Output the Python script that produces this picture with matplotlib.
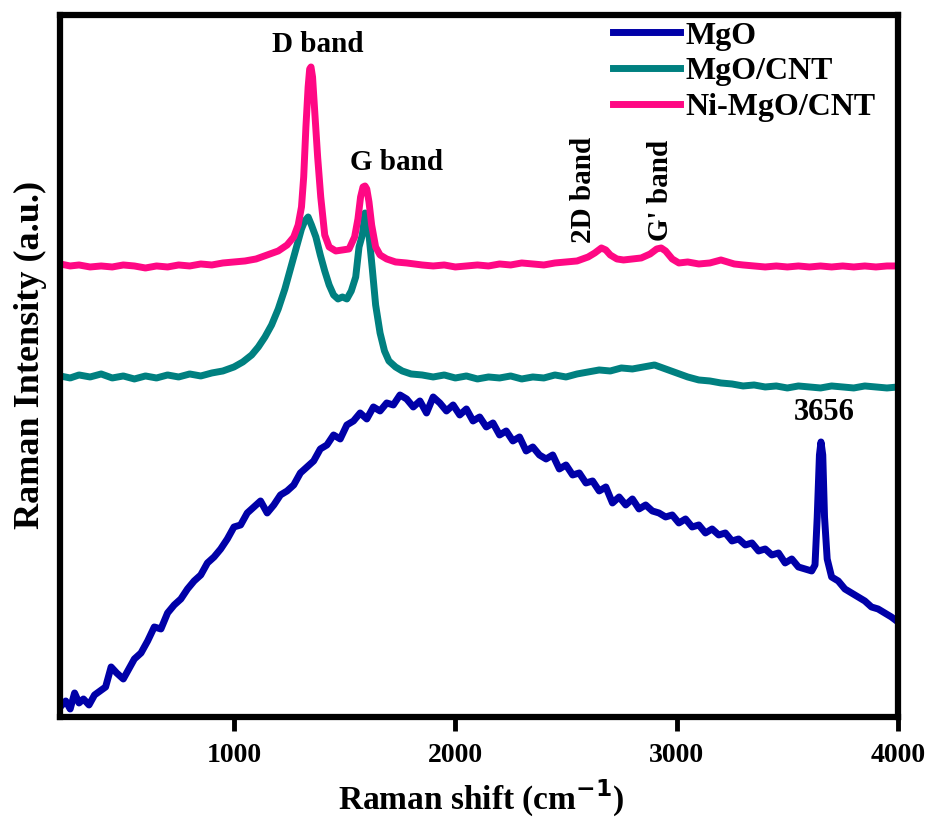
import matplotlib
matplotlib.use("Agg")
import matplotlib.pyplot as plt

plt.rcParams['font.family'] = ['Liberation Serif', 'DejaVu Serif']
plt.rcParams['font.weight'] = 'bold'
plt.rcParams['mathtext.default'] = 'bf'

# MgO spectrum (Raman shift in cm-1, intensity in a.u.)
mgo_x = [215, 240, 260, 280, 300, 320, 345, 370, 395, 420,
         445, 470, 500, 525, 550, 580, 610, 640, 670, 700,
         730, 760, 790, 820, 850, 880, 910, 940, 970, 1000,
         1030, 1060, 1090, 1120, 1150, 1180, 1210, 1240, 1270, 1300,
         1330, 1360, 1390, 1420, 1450, 1480, 1510, 1540, 1570, 1600,
         1630, 1660, 1690, 1720, 1750, 1780, 1810, 1840, 1870, 1900,
         1930, 1960, 1990, 2020, 2050, 2080, 2110, 2140, 2170, 2200,
         2230, 2260, 2290, 2320, 2350, 2380, 2410, 2440, 2470, 2500,
         2530, 2560, 2590, 2620, 2650, 2680, 2710, 2740, 2770, 2800,
         2830, 2860, 2890, 2920, 2950, 2980, 3010, 3040, 3070, 3100,
         3130, 3160, 3190, 3220, 3250, 3280, 3310, 3340, 3370, 3400,
         3430, 3460, 3490, 3520, 3550, 3580, 3610, 3625, 3635, 3645,
         3652, 3660, 3668, 3680, 3700, 3730, 3760, 3790, 3820, 3850,
         3880, 3910, 3940, 3970, 4000]
mgo_y = [10, 16, 8, 24, 14, 18, 12, 22, 26, 30,
         50, 44, 38, 48, 58, 64, 76, 90, 88, 104,
         112, 118, 128, 136, 142, 154, 160, 168, 178, 190,
         192, 204, 210, 216, 204, 212, 222, 226, 232, 244,
         250, 256, 268, 272, 282, 278, 292, 296, 304, 298,
         310, 306, 314, 312, 322, 318, 310, 316, 304, 320,
         314, 306, 312, 302, 308, 296, 300, 290, 294, 282,
         286, 276, 280, 266, 270, 262, 258, 262, 248, 252,
         242, 244, 234, 236, 226, 230, 214, 220, 212, 218,
         208, 212, 206, 204, 200, 202, 194, 198, 190, 192,
         184, 188, 182, 184, 176, 178, 172, 174, 166, 168,
         162, 164, 154, 158, 150, 148, 146, 152, 200, 262,
         275, 262, 200, 158, 140, 136, 128, 124, 120, 116,
         110, 108, 104, 100, 95]

# MgO/CNT spectrum
cnt_x = [215, 260, 300, 350, 400, 450, 500, 550, 600, 650,
         700, 750, 800, 850, 900, 950, 1000, 1040, 1080, 1110,
         1140, 1170, 1200, 1230, 1260, 1285, 1305, 1320, 1335, 1350,
         1370, 1390, 1410, 1430, 1450, 1470, 1490, 1510, 1530, 1550,
         1565, 1580, 1592, 1600, 1610, 1625, 1640, 1660, 1680, 1700,
         1730, 1760, 1800, 1850, 1900, 1950, 2000, 2050, 2100, 2150,
         2200, 2250, 2300, 2350, 2400, 2450, 2500, 2550, 2600, 2650,
         2700, 2750, 2800, 2850, 2900, 2950, 3000, 3050, 3100, 3150,
         3200, 3250, 3300, 3350, 3400, 3450, 3500, 3550, 3600, 3650,
         3700, 3750, 3800, 3850, 3900, 3950, 4000]
cnt_y = [341, 339, 342, 340, 343, 339, 341, 338, 341, 339,
         342, 340, 343, 341, 344, 346, 350, 355, 362, 370,
         380, 392, 408, 428, 452, 472, 488, 496, 500, 492,
         480, 462, 446, 432, 422, 418, 420, 418, 426, 440,
         470, 482, 504, 500, 482, 448, 412, 384, 366, 356,
         350, 346, 343, 342, 340, 342, 339, 341, 338, 340,
         339, 341, 338, 340, 339, 342, 340, 343, 345, 347,
         346, 349, 348, 350, 352, 348, 344, 340, 337, 336,
         334, 333, 331, 332, 330, 331, 329, 331, 330, 329,
         331, 330, 329, 331, 330, 329, 330]

# Ni-MgO/CNT spectrum
ni_x = [215, 260, 300, 350, 400, 450, 500, 550, 600, 650,
        700, 750, 800, 850, 900, 950, 1000, 1050, 1100, 1150,
        1200, 1240, 1270, 1290, 1305, 1315, 1325, 1335, 1342, 1348,
        1355, 1365, 1378, 1392, 1410, 1430, 1460, 1490, 1520, 1545,
        1560, 1572, 1583, 1592, 1600, 1610, 1622, 1640, 1660, 1690,
        1730, 1780, 1850, 1900, 1950, 2000, 2050, 2100, 2150, 2200,
        2250, 2300, 2350, 2400, 2450, 2500, 2550, 2600, 2630, 2660,
        2680, 2700, 2730, 2760, 2800, 2840, 2880, 2910, 2930, 2950,
        2980, 3010, 3050, 3100, 3150, 3200, 3230, 3260, 3300, 3350,
        3400, 3450, 3500, 3550, 3600, 3650, 3700, 3750, 3800, 3850,
        3900, 3950, 4000]
ni_y = [453, 451, 452, 450, 451, 450, 452, 451, 449, 451,
        450, 452, 451, 453, 452, 454, 455, 456, 458, 462,
        466, 472, 480, 492, 510, 540, 590, 630, 648, 650,
        640, 605, 560, 520, 482, 470, 466, 467, 468, 480,
        498, 520, 530, 531, 528, 515, 492, 470, 462, 458,
        455, 454, 452, 451, 452, 450, 451, 452, 451, 453,
        452, 454, 453, 452, 454, 455, 456, 460, 464, 469,
        467, 462, 458, 457, 458, 459, 463, 468, 469, 466,
        458, 454, 455, 453, 454, 457, 455, 453, 452, 451,
        450, 451, 450, 451, 450, 451, 450, 451, 450, 451,
        450, 451, 451]

xticks = [1000, 2000, 3000, 4000]

fig = plt.figure(figsize=(9.33, 8.18), dpi=100)
ax = fig.add_axes([0.0643, 0.1235, 0.8982, 0.8582])

lw = 5
ax.plot(mgo_x, mgo_y, color='#0000A8', lw=lw, label='MgO')
ax.plot(cnt_x, cnt_y, color='#008080', lw=lw, label='MgO/CNT')
ax.plot(ni_x, ni_y, color='#FF0884', lw=lw, label='Ni-MgO/CNT')

ax.set_xlim(214, 4000)
ax.set_ylim(0, 702)
ax.set_xticks(xticks)
ax.set_yticks([])
ax.tick_params(axis='x', direction='out', length=10, width=3.5, pad=9, labelsize=20)
for s in ax.spines.values():
    s.set_linewidth(4.5)

ax.set_xlabel('Raman shift (cm$^{-1}$)', fontsize=24, fontweight='bold')
ax.set_ylabel('Raman Intensity (a.u.)', fontsize=26, fontweight='bold')
ax.xaxis.set_label_coords(0.502, -0.086)
ax.yaxis.set_label_coords(-0.016, 0.516)

ax.text(1380, 672, 'D band', fontsize=21, ha='center', va='center')
ax.text(1736, 554, 'G band', fontsize=21, ha='center', va='center')
ax.text(2577, 527, '2D band', fontsize=21, ha='center', va='center', rotation=90)
ax.text(2925, 527, "G' band", fontsize=21, ha='center', va='center', rotation=90)
ax.text(3666, 304, '3656', fontsize=22, ha='center', va='center')

ax.legend(loc='upper left', bbox_to_anchor=(0.657, 0.974), bbox_transform=fig.transFigure,
          frameon=False, fontsize=23, handlelength=2.1, handletextpad=0.16,
          labelspacing=0.2, borderpad=0, borderaxespad=0)

fig.savefig('out.png', dpi=100)
